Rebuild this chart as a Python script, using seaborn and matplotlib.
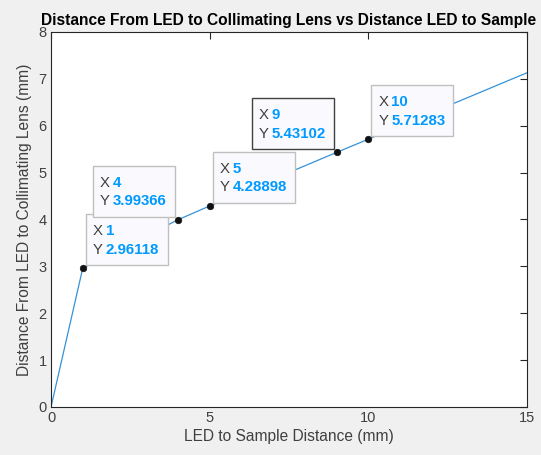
import matplotlib
matplotlib.use("Agg")
import matplotlib.pyplot as plt
import matplotlib.transforms as mtransforms
from matplotlib.patches import Rectangle
import seaborn as sns
import pandas as pd

# Measured distances (mm)
led_to_sample = [0, 1, 4, 5, 9, 10, 15]
led_to_lens = [0, 2.96118, 3.99366, 4.28898, 5.43102, 5.71283, 7.13]

# Data tips: x, y, which side of the point the box sits on, selected?
tip_x = [1, 4, 5, 9, 10]
tip_y = [2.96118, 3.99366, 4.28898, 5.43102, 5.71283]
tip_side = ["right", "left", "right", "left", "right"]
tip_selected = [False, False, False, True, False]

x_ticks = [0, 5, 10, 15]
y_ticks = [0, 1, 2, 3, 4, 5, 6, 7, 8]

sns.set_style("white")
plt.rcParams["font.family"] = ["Liberation Sans", "DejaVu Sans"]

fig = plt.figure(figsize=(5.41, 4.55), dpi=100, facecolor="#f0f0f0")
ax = fig.add_axes([0.0943, 0.1055, 0.8797, 0.8242])
ax.set_facecolor("white")

df = pd.DataFrame({"x": led_to_sample, "y": led_to_lens})
sns.lineplot(data=df, x="x", y="y", ax=ax, color="#3592d8", linewidth=0.9,
             estimator=None, sort=False)

tips = pd.DataFrame({"x": tip_x, "y": tip_y})
sns.scatterplot(data=tips, x="x", y="y", ax=ax, color="#111111", s=22,
                edgecolor="#111111", linewidth=0.5, zorder=5)

ax.set_xlim(0, 15)
ax.set_ylim(0, 8)
ax.set_xticks(x_ticks)
ax.set_yticks(y_ticks)
ax.tick_params(direction="in", length=5, width=0.8, colors="#262626",
               labelsize=10.5, top=True, right=True, pad=3)
ax.tick_params(axis="x", labelcolor="#404040")
ax.tick_params(axis="y", labelcolor="#404040")
for sp in ax.spines.values():
    sp.set_color("#262626")
    sp.set_linewidth(0.8)
    sp.set_visible(True)

ax.set_xlabel("LED to Sample Distance (mm)", fontsize=11.2, color="#404040",
              labelpad=3)
ax.set_ylabel("Distance From LED to Collimating Lens (mm)", fontsize=11.2,
              color="#404040", labelpad=5)
ax.set_title("Distance From LED to Collimating Lens vs Distance LED to Sample",
             fontsize=11.2, fontweight="bold", color="black", pad=5)

# Data-tip boxes, sized in pixels and anchored at their points
box_w, box_h = 82, 51
gap = 3
for x, y, side, sel in zip(tip_x, tip_y, tip_side, tip_selected):
    tr = mtransforms.Affine2D() + mtransforms.ScaledTranslation(x, y, ax.transData)
    x0 = gap if side == "right" else -gap - box_w
    y0 = gap
    rect = Rectangle((x0, y0), box_w, box_h, transform=tr,
                     facecolor="#fafafe", edgecolor="#404040" if sel else "#c0c0c0",
                     linewidth=1.0, zorder=6, clip_on=False)
    ax.add_patch(rect)
    tx = x0 + 7
    for row, (lab, val) in enumerate([("X", f"{x:g}"), ("Y", f"{y:.5f}")]):
        ty = y0 + box_h - 17 - row * 18.5
        ax.text(tx, ty, lab, transform=tr, fontsize=10.8, color="#404040",
                va="center", ha="left", zorder=7)
        ax.text(tx + 13, ty, val, transform=tr, fontsize=10.8, color="#0099ff",
                fontweight="bold", va="center", ha="left", zorder=7)

fig.savefig("out.png", dpi=100, facecolor=fig.get_facecolor())
